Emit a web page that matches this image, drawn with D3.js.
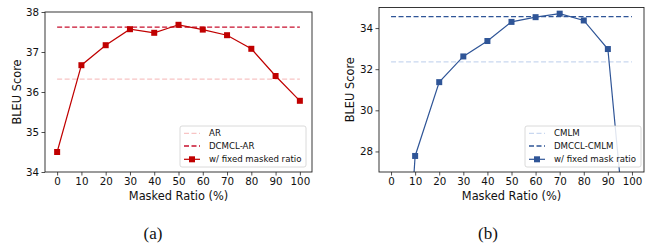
<!DOCTYPE html>
<html><head><meta charset="utf-8">
<script src="https://cdn.jsdelivr.net/npm/d3@7"></script>
<style>body{margin:0;background:#fff}svg{display:block}</style>
</head><body>
<svg id="c" width="649" height="247"></svg>
<script>
const ratios = [0, 10, 20, 30, 40, 50, 60, 70, 80, 90, 100];
const xTicks = [0, 10, 20, 30, 40, 50, 60, 70, 80, 90, 100];
// Panel (a)
const arFixed = [34.5, 36.67, 37.17, 37.57, 37.48, 37.68, 37.56, 37.42, 37.08, 36.4, 35.78];
const arBaseline = 36.32;
const dcmclAR = 37.62;
const yTicksA = [34, 35, 36, 37, 38];
// Panel (b)
const cmlmFixed = [10.0, 27.78, 31.37, 32.62, 33.37, 34.3, 34.53, 34.7, 34.37, 32.98, 20.6];
const cmlmBaseline = 32.36;
const dmcclCMLM = 34.56;
const yTicksB = [28, 30, 32, 34];

const svg = d3.select("#c");
const FONT = "DejaVu Sans, sans-serif";

function panel(cfg) {
  const {left, right, top, bottom, yDomain, yTicks, vals, base, ours, names, cLine, cBase, cOurs, legend, ylabX, id, caption, capX} = cfg;
  const x = d3.scaleLinear().domain([-5, 105]).range([left, right]);
  const y = d3.scaleLinear().domain(yDomain).range([bottom, top]);
  const g = svg.append("g");
  g.append("clipPath").attr("id", id).append("rect")
    .attr("x", left).attr("y", top).attr("width", right - left).attr("height", bottom - top);
  const plot = g.append("g").attr("clip-path", `url(#${id})`);
  plot.append("line").attr("x1", x(0)).attr("x2", x(100)).attr("y1", y(base)).attr("y2", y(base))
    .attr("stroke", cBase).attr("stroke-width", 1.3).attr("stroke-dasharray", "5,2.5");
  plot.append("line").attr("x1", x(0)).attr("x2", x(100)).attr("y1", y(ours)).attr("y2", y(ours))
    .attr("stroke", cOurs).attr("stroke-width", 1.3).attr("stroke-dasharray", "5,2.5");
  const line = d3.line().x((d, i) => x(ratios[i])).y(d => y(d));
  plot.append("path").datum(vals).attr("d", line).attr("fill", "none")
    .attr("stroke", cLine).attr("stroke-width", 1.2);
  plot.selectAll("rect.m").data(vals).enter().append("rect").attr("class", "m")
    .attr("x", (d, i) => x(ratios[i]) - 3).attr("y", d => y(d) - 3)
    .attr("width", 6).attr("height", 6).attr("fill", cLine);
  const xa = g.append("g").attr("transform", `translate(0,${bottom})`)
    .call(d3.axisBottom(x).tickValues(xTicks).tickFormat(d3.format("d")).tickSize(3.5).tickPadding(2.5));
  const ya = g.append("g").attr("transform", `translate(${left},0)`)
    .call(d3.axisLeft(y).tickValues(yTicks).tickFormat(d3.format("d")).tickSize(3.5).tickPadding(2.5));
  [xa, ya].forEach(a => {
    a.select(".domain").remove();
    a.selectAll("text").attr("font-family", FONT).attr("font-size", 10.3).attr("fill", "#111");
    a.selectAll("line").attr("stroke", "#222").attr("stroke-width", 0.8);
  });
  g.append("rect").attr("x", left).attr("y", top).attr("width", right - left).attr("height", bottom - top)
    .attr("fill", "none").attr("stroke", "#222").attr("stroke-width", 0.9);
  g.append("text").attr("x", (left + right) / 2).attr("y", 200).attr("text-anchor", "middle")
    .attr("font-family", FONT).attr("font-size", 11.4).attr("fill", "#111").text("Masked Ratio (%)");
  g.append("text").attr("transform", `translate(${ylabX},${(top + bottom) / 2}) rotate(-90)`)
    .attr("text-anchor", "middle").attr("dominant-baseline", "central")
    .attr("font-family", FONT).attr("font-size", 11.4).attr("fill", "#111").text("BLEU Score");
  const lg = g.append("g");
  lg.append("rect").attr("x", legend.x).attr("y", 126).attr("width", legend.w).attr("height", 41)
    .attr("rx", 2).attr("fill", "#fff").attr("fill-opacity", 0.85).attr("stroke", "#d0d0d0").attr("stroke-width", 0.8);
  const rows = [133.3, 146, 159.3];
  const hx0 = legend.x + 4, hx1 = legend.x + 20, tx = legend.x + 29;
  lg.append("line").attr("x1", hx0).attr("x2", hx1).attr("y1", rows[0]).attr("y2", rows[0])
    .attr("stroke", cBase).attr("stroke-width", 1.3).attr("stroke-dasharray", "5,2.5");
  lg.append("line").attr("x1", hx0).attr("x2", hx1).attr("y1", rows[1]).attr("y2", rows[1])
    .attr("stroke", cOurs).attr("stroke-width", 1.3).attr("stroke-dasharray", "5,2.5");
  lg.append("line").attr("x1", hx0).attr("x2", hx1).attr("y1", rows[2]).attr("y2", rows[2])
    .attr("stroke", cLine).attr("stroke-width", 1.2);
  lg.append("rect").attr("x", (hx0 + hx1) / 2 - 3).attr("y", rows[2] - 3).attr("width", 6).attr("height", 6).attr("fill", cLine);
  names.forEach((n, i) => {
    lg.append("text").attr("x", tx).attr("y", rows[i]).attr("dominant-baseline", "central")
      .attr("font-family", FONT).attr("font-size", 8.6).attr("fill", "#111").text(n);
  });
  svg.append("text").attr("x", capX).attr("y", 239).attr("text-anchor", "middle")
    .attr("font-family", "Liberation Serif, serif").attr("font-size", 17).attr("fill", "#111").text(caption);
}

panel({left: 45, right: 312, top: 12, bottom: 172, yDomain: [34, 38], yTicks: yTicksA,
  vals: arFixed, base: arBaseline, ours: dcmclAR, names: ["AR", "DCMCL-AR", "w/ fixed masked ratio"],
  cLine: "#c00000", cBase: "#f8c4c4", cOurs: "#c8102e", legend: {x: 180, w: 126}, ylabX: 17,
  id: "clipA", caption: "(a)", capX: 153});
panel({left: 379, right: 644, top: 7.5, bottom: 172, yDomain: [27, 35], yTicks: yTicksB,
  vals: cmlmFixed, base: cmlmBaseline, ours: dmcclCMLM, names: ["CMLM", "DMCCL-CMLM", "w/ fixed mask ratio"],
  cLine: "#2f5597", cBase: "#c9d8f0", cOurs: "#2f5597", legend: {x: 525, w: 116}, ylabX: 350,
  id: "clipB", caption: "(b)", capX: 488});
</script>
</body></html>
